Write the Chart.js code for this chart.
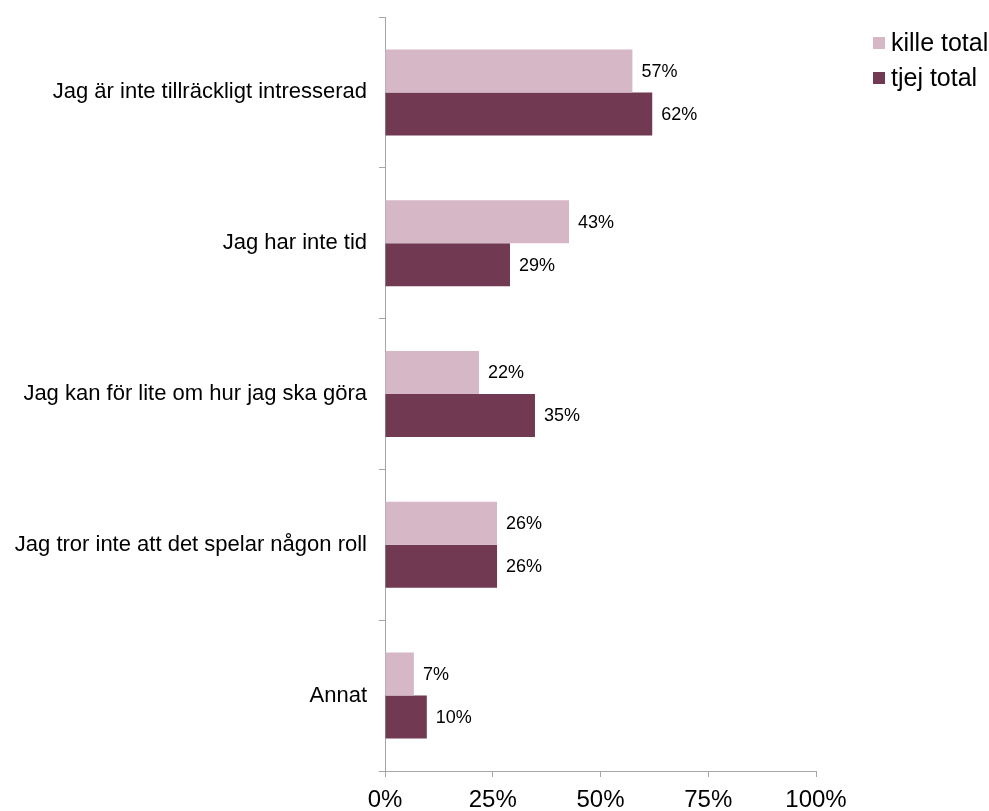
<!DOCTYPE html>
<html>
<head>
<meta charset="utf-8">
<script src="https://cdn.jsdelivr.net/npm/chart.js@4"></script>
<style>
  html, body { margin: 0; padding: 0; background: #fff; }
  #wrap { width: 989px; height: 811px; position: relative; }
</style>
</head>
<body>
<div id="wrap"><canvas id="chart"></canvas></div>
<script>
const categories = [
    'Jag är inte tillräckligt intresserad',
    'Jag har inte tid',
    'Jag kan för lite om hur jag ska göra',
    'Jag tror inte att det spelar någon roll',
    'Annat'
];
const seriesNames = ['kille total', 'tjej total'];
const killeValues = [57.4, 42.7, 21.8, 26, 6.7];
const tjejValues = [62, 29, 34.8, 26, 9.7];
const xTicks = [0, 25, 50, 75, 100];

const colors = ['#d6b7c6', '#713a52'];
const FONT = '"Liberation Sans", Arial, sans-serif';

// value labels just right of each bar end
const valueLabels = {
    id: 'valueLabels',
    afterDatasetsDraw(chart) {
        const { ctx } = chart;
        ctx.save();
        ctx.font = '18px ' + FONT;
        ctx.fillStyle = '#000';
        ctx.textBaseline = 'middle';
        ctx.textAlign = 'left';
        chart.data.datasets.forEach((ds, i) => {
            chart.getDatasetMeta(i).data.forEach((bar, j) => {
                ctx.fillText(Math.round(ds.data[j]) + '%', bar.x + 9, bar.y + 1);
            });
        });
        ctx.restore();
    }
};

// legend in the top right corner
const sideLegend = {
    id: 'sideLegend',
    afterDraw(chart) {
        const { ctx } = chart;
        ctx.save();
        ctx.font = '25px ' + FONT;
        ctx.textBaseline = 'middle';
        seriesNames.forEach((name, i) => {
            const y = 43 + i * 35;
            ctx.fillStyle = colors[i];
            ctx.fillRect(873, y - 6, 12, 12);
            ctx.fillStyle = '#000';
            ctx.fillText(name, 891, y + 1);
        });
        ctx.restore();
    }
};

new Chart(document.getElementById('chart'), {
    type: 'bar',
    data: {
        labels: categories,
        datasets: seriesNames.map((name, i) => ({
            label: name,
            data: i === 0 ? killeValues : tjejValues,
            backgroundColor: colors[i],
            categoryPercentage: 0.57,
            barPercentage: 1.0
        }))
    },
    options: {
        indexAxis: 'y',
        responsive: true,
        maintainAspectRatio: false,
        animation: false,
        layout: { padding: { top: 17, right: 173, left: 0, bottom: 0 } },
        plugins: {
            legend: { display: false },
            tooltip: { enabled: false }
        },
        scales: {
            x: {
                min: 0,
                max: 100,
                afterBuildTicks: axis => { axis.ticks = xTicks.map(v => ({ value: v })); },
                afterFit: axis => { axis.height = 40; },
                border: { color: '#a6a6a6', width: 1 },
                grid: { drawOnChartArea: false, drawTicks: true, tickLength: 6, color: '#a6a6a6' },
                ticks: {
                    color: '#000',
                    padding: 9,
                    font: { family: FONT, size: 24 },
                    callback: v => v + '%'
                }
            },
            y: {
                offset: true,
                afterFit: axis => {
                    axis.width = 385;
                    axis.paddingTop = 0;
                    axis.paddingBottom = 0;
                },
                border: { color: '#a6a6a6', width: 1 },
                grid: { offset: true, drawOnChartArea: false, drawTicks: true, tickLength: 6, color: '#a6a6a6' },
                ticks: {
                    color: '#000',
                    padding: 12,
                    font: { family: FONT, size: 22 }
                }
            }
        }
    },
    plugins: [valueLabels, sideLegend]
});
</script>
</body>
</html>
